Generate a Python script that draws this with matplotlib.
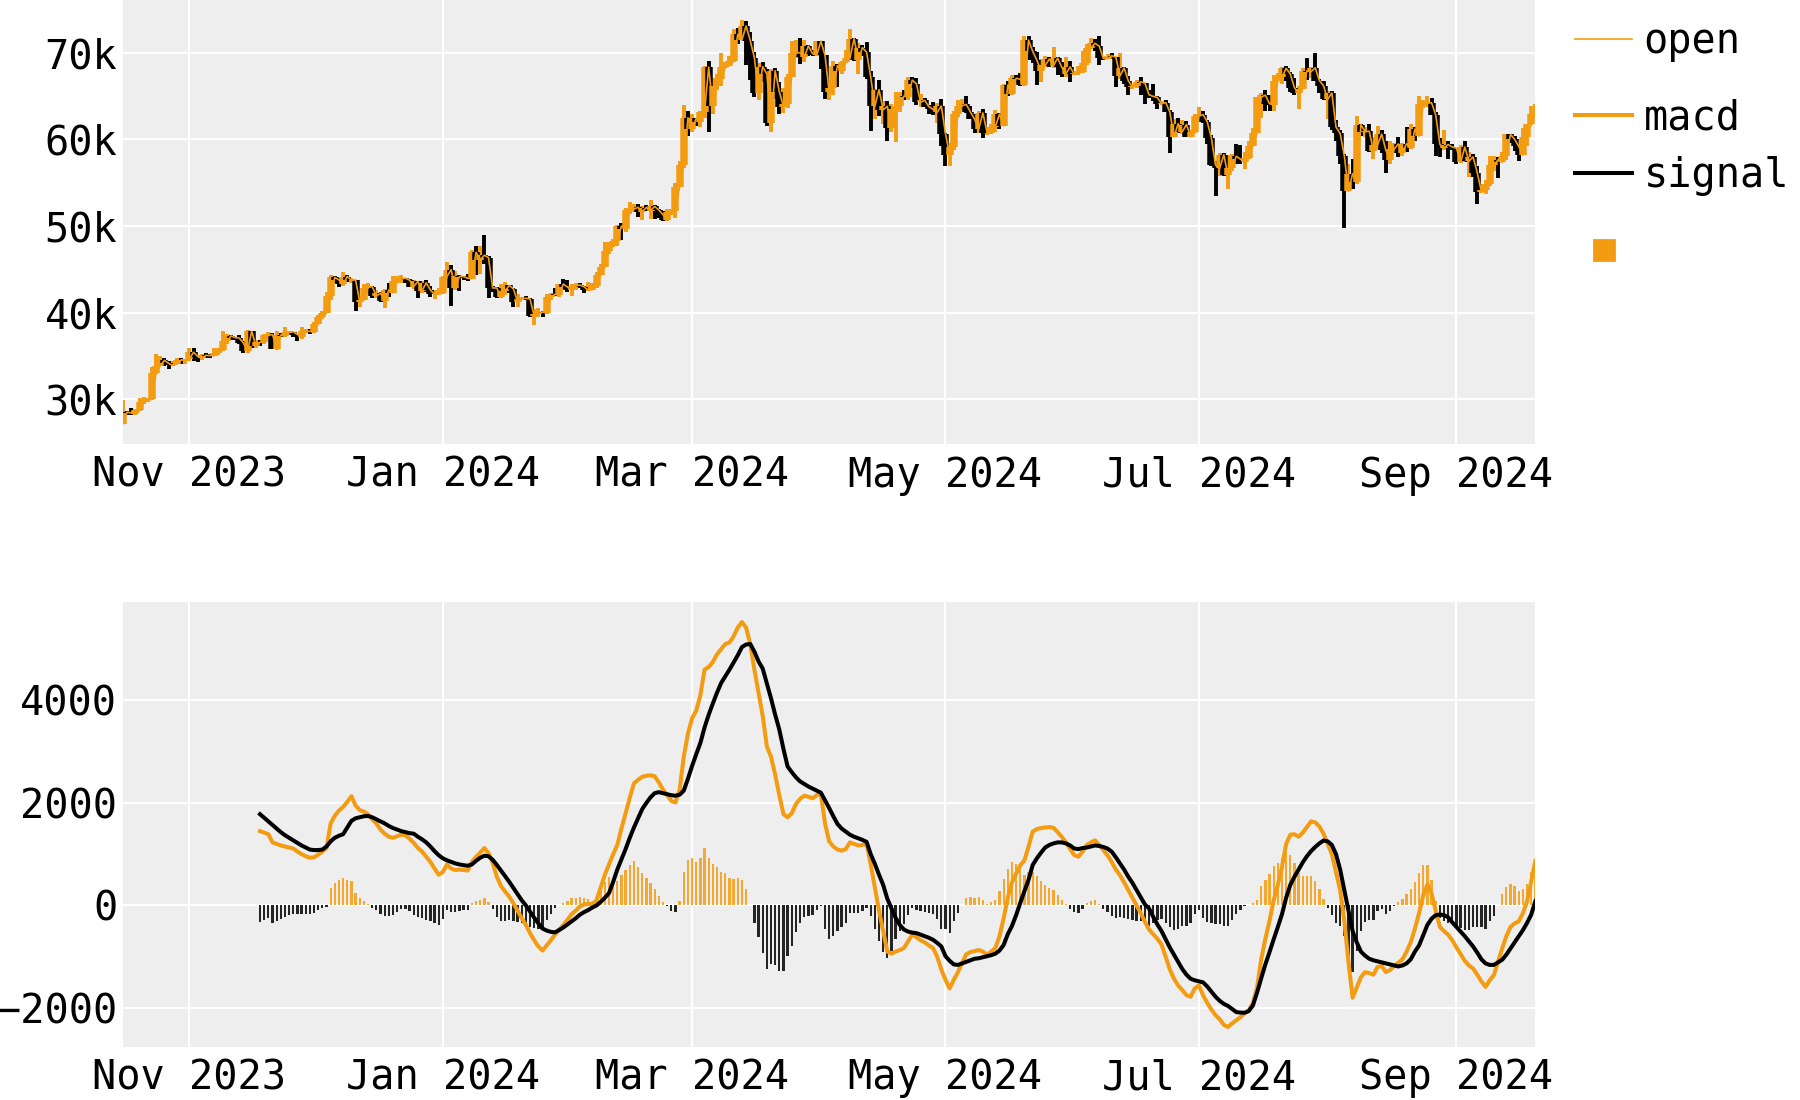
import numpy as np
import pandas as pd
import matplotlib
matplotlib.use("Agg")
import matplotlib.pyplot as plt
import matplotlib.dates as mdates
from matplotlib.lines import Line2D
from matplotlib.ticker import FuncFormatter, MultipleLocator

# ---------------- data (prices in thousands of USD) ----------------
start_date = "2023-10-16"

open_ = [
    27.15, 28.52, 28.42, 28.33, 28.72, 29.68, 29.92, 30.00, 33.09, 33.90, 34.50, 34.16, 33.91, 34.09, 34.54, 34.50,
    34.67, 35.44, 34.94, 34.73, 35.08, 35.05, 35.04, 35.40, 35.65, 36.69, 37.31, 37.13, 37.07, 36.49, 35.55, 37.88,
    36.15, 36.60, 36.58, 37.39, 37.48, 35.81, 37.41, 37.29, 37.72, 37.80, 37.48, 37.25, 37.83, 37.86,
    37.72, 38.69, 39.48, 39.98, 41.98, 44.08, 43.77, 43.29, 44.17, 43.73, 43.79, 41.24, 41.45, 42.89, 43.02, 41.93,
    42.24, 41.36, 42.62, 42.27, 43.65, 43.87, 43.99, 43.74, 43.02, 43.61, 42.52, 43.44, 42.63, 42.10, 42.16,
    42.27, 44.17, 44.96, 42.85, 44.18, 44.16, 43.97, 43.93, 46.97, 46.11, 46.63, 46.35, 42.85, 42.84, 41.80, 42.51,
    43.15, 42.74, 41.26, 41.62, 41.66, 41.58, 39.57, 39.90, 40.08, 39.93, 41.82, 42.12, 42.04, 43.30, 42.95,
    42.58, 43.08, 43.19, 42.99, 42.58, 42.66, 43.08, 44.32, 45.30, 47.15, 47.77, 48.29, 50.00, 49.70, 51.83, 51.94,
    52.16, 51.66, 52.12, 51.78, 52.26, 51.84, 51.30, 50.73, 51.57, 51.73, 54.52, 57.09, 62.50,
    61.20, 62.44, 62.03, 63.17, 68.33, 63.80, 66.11, 66.93, 68.30, 68.50, 69.02, 72.12, 71.48, 73.08, 71.40, 69.40,
    65.32, 68.39, 67.55, 61.91, 67.91, 65.49, 63.78, 64.06, 67.23, 69.96, 70.00, 69.45, 70.78, 69.89, 69.70,
    71.33, 69.70, 65.45, 65.98, 68.51, 67.84, 68.90, 69.36, 71.63, 69.14, 70.59, 70.06, 67.20, 63.82, 65.74, 63.42,
    63.81, 61.28, 63.51, 63.84, 64.99, 64.93, 66.84, 66.41, 64.28, 64.50, 63.77, 63.46, 63.12, 63.84,
    60.64, 58.25, 59.12, 62.89, 63.89, 64.03, 63.16, 62.33, 61.19, 63.05, 60.79, 60.79, 61.45, 62.90, 61.55, 66.27,
    65.23, 67.05, 66.94, 66.28, 71.45, 70.14, 69.12, 67.93, 68.53, 69.27, 68.51, 69.39, 68.30, 67.58, 68.36,
    67.49, 67.71, 67.75, 68.80, 70.57, 71.08, 70.76, 69.34, 69.30, 69.65, 69.49, 67.32, 68.24, 66.76, 66.01, 66.19,
    66.64, 66.49, 65.14, 64.96, 64.83, 64.10, 64.25, 63.18, 60.28, 61.80, 60.87, 61.71, 60.32, 60.89,
    62.68, 62.85, 62.03, 60.17, 57.03, 56.66, 58.23, 55.86, 56.71, 58.05, 57.72, 57.34, 57.90, 59.23, 60.79, 64.87,
    65.10, 64.12, 63.97, 66.71, 67.16, 68.19, 67.55, 65.96, 65.37, 65.80, 67.91, 67.81, 68.26, 66.78, 66.19,
    64.62, 65.36, 61.42, 60.68, 58.12, 53.99, 56.03, 55.03, 61.71, 60.88, 60.94, 58.71, 59.35, 60.61, 58.74, 57.56,
    58.87, 59.48, 58.48, 59.49, 59.01, 61.18, 60.38, 64.09, 64.18, 64.22, 62.83, 59.42, 59.03, 59.39, 59.12,
    58.97, 57.33, 59.11, 57.48, 57.97, 56.16, 53.95, 54.14, 54.84, 57.02, 57.65, 57.34, 58.13, 60.57, 60.01, 59.18,
    58.21, 60.31, 61.76, 62.95,
]

high = [
    29.98, 28.61, 28.98, 28.89, 30.10, 30.30, 30.20, 33.70, 35.20, 35.00, 34.80, 34.40, 34.40, 34.74, 34.72, 34.70,
    35.88, 35.98, 34.94, 35.25, 35.35, 35.27, 35.89, 35.88, 37.93, 37.53, 37.40, 37.25, 37.40, 36.75, 37.98, 37.93,
    36.83, 36.84, 37.50, 37.78, 37.66, 37.84, 37.65, 38.39, 37.89, 37.81, 37.58, 38.37, 38.15, 38.08,
    38.95, 39.68, 40.18, 42.39, 44.35, 44.27, 44.03, 44.70, 44.37, 43.99, 43.80, 41.93, 43.36, 43.43, 43.09, 42.59,
    42.34, 42.72, 43.45, 44.24, 44.23, 44.37, 44.05, 43.87, 43.80, 43.65, 43.68, 43.80, 43.11, 42.57, 42.85,
    44.18, 45.90, 45.50, 44.77, 44.34, 44.19, 44.47, 47.22, 47.69, 47.65, 48.97, 46.50, 43.04, 43.00, 43.28, 43.53,
    43.18, 42.89, 42.11, 41.80, 41.87, 41.72, 40.48, 40.49, 40.25, 42.20, 42.23, 42.81, 43.32, 43.84, 43.72,
    43.26, 43.48, 43.38, 43.12, 43.49, 43.40, 44.69, 45.58, 48.17, 48.20, 48.54, 50.13, 50.33, 52.04, 52.82, 52.56,
    52.53, 52.36, 52.48, 52.95, 52.37, 52.00, 51.68, 51.95, 51.95, 54.91, 57.53, 63.91, 63.23,
    62.90, 62.44, 63.23, 68.50, 69.00, 67.06, 67.49, 69.91, 68.96, 69.60, 72.74, 72.89, 73.75, 73.64, 72.34, 70.04,
    68.84, 68.92, 68.11, 68.07, 68.18, 66.62, 65.91, 67.56, 71.36, 71.48, 71.68, 71.52, 70.91, 70.30, 71.37,
    71.34, 69.72, 66.87, 68.99, 68.72, 69.02, 70.28, 72.72, 71.69, 71.13, 70.93, 71.22, 67.93, 65.82, 66.87, 64.37,
    64.46, 64.08, 65.45, 65.46, 65.66, 67.16, 67.21, 67.05, 65.28, 64.77, 63.92, 64.32, 64.18, 64.67,
    60.78, 59.60, 63.32, 64.49, 64.62, 65.00, 63.90, 62.98, 63.23, 63.45, 61.46, 61.82, 63.42, 63.03, 66.44, 66.73,
    67.40, 67.40, 67.69, 71.95, 71.92, 70.62, 70.08, 69.22, 69.58, 69.50, 70.61, 69.50, 68.88, 69.50, 69.00,
    67.84, 68.41, 70.16, 71.05, 71.73, 71.63, 71.94, 69.53, 69.82, 69.99, 69.52, 69.98, 68.38, 67.26, 66.37, 66.90,
    67.23, 66.56, 65.70, 66.42, 65.00, 64.47, 64.50, 63.35, 62.35, 62.43, 62.23, 62.12, 61.10, 62.87,
    63.78, 63.25, 62.18, 60.47, 57.50, 58.47, 58.37, 58.19, 58.29, 59.43, 59.36, 58.54, 59.80, 61.34, 64.87, 65.33,
    65.67, 65.08, 67.39, 67.61, 68.37, 68.47, 67.77, 67.04, 66.12, 68.22, 69.39, 68.32, 70.00, 66.97, 66.78,
    65.59, 65.55, 62.18, 61.10, 58.29, 57.11, 57.72, 62.67, 61.75, 61.47, 61.80, 60.22, 61.55, 61.04, 59.82, 59.80,
    59.62, 60.25, 59.59, 61.40, 61.81, 61.38, 64.95, 64.49, 64.98, 64.79, 63.21, 60.20, 61.12, 59.83, 59.43,
    59.06, 59.40, 59.81, 58.51, 58.31, 56.98, 54.85, 55.29, 58.05, 58.04, 57.99, 58.55, 60.65, 60.64, 60.38, 59.21,
    61.29, 61.80, 63.84, 64.11,
]

low = [
    27.13, 28.18, 28.15, 28.17, 28.70, 29.47, 29.73, 29.90, 32.90, 33.80, 33.90, 33.45, 33.88, 34.04, 34.07, 34.08,
    34.37, 34.42, 34.33, 34.58, 34.79, 34.78, 34.95, 35.11, 35.54, 36.34, 36.81, 36.82, 36.36, 35.38, 35.38, 35.88,
    35.93, 36.21, 36.37, 37.11, 35.77, 35.72, 37.18, 37.25, 37.57, 37.17, 36.77, 36.99, 37.63, 37.52,
    37.60, 38.68, 39.28, 39.96, 41.42, 43.38, 42.91, 43.10, 43.59, 43.39, 40.24, 40.68, 41.42, 42.11, 41.69, 41.72,
    41.27, 40.56, 41.84, 42.26, 43.40, 43.45, 43.37, 42.99, 42.76, 41.66, 42.27, 42.34, 41.82, 41.61, 42.08,
    42.15, 44.15, 40.81, 42.63, 42.51, 43.75, 43.67, 43.88, 44.33, 44.42, 45.67, 41.75, 42.44, 41.72, 41.70, 42.09,
    42.23, 40.68, 40.62, 41.45, 41.45, 39.47, 38.56, 39.52, 39.55, 39.83, 41.45, 41.88, 41.84, 42.72, 42.33,
    41.88, 42.57, 42.85, 42.25, 42.55, 42.58, 42.81, 44.30, 45.24, 46.80, 47.63, 47.74, 48.37, 49.27, 51.33, 51.62,
    51.09, 50.67, 51.70, 50.82, 50.83, 50.97, 50.62, 50.60, 51.29, 50.90, 54.45, 56.75, 60.37,
    60.80, 61.59, 61.48, 62.41, 60.80, 62.96, 65.70, 66.17, 68.21, 68.43, 68.90, 71.01, 71.47, 68.60, 66.88, 64.83,
    64.58, 66.63, 61.56, 60.86, 64.60, 62.97, 63.09, 63.57, 67.21, 69.39, 68.74, 68.87, 69.66, 69.61, 69.62,
    68.11, 64.63, 64.55, 65.10, 66.03, 67.58, 68.84, 69.13, 68.99, 67.52, 69.63, 66.92, 60.92, 62.30, 62.73, 61.76,
    59.77, 60.83, 59.68, 63.13, 64.53, 64.58, 65.88, 63.91, 63.76, 63.69, 62.92, 62.82, 61.83, 59.19,
    56.90, 56.94, 58.77, 62.62, 63.33, 63.07, 62.33, 60.79, 60.76, 60.18, 60.49, 60.66, 60.82, 61.20, 61.55, 64.99,
    65.12, 66.62, 66.10, 66.13, 69.20, 68.86, 66.31, 66.64, 68.34, 68.39, 68.26, 67.40, 67.18, 67.16, 66.67,
    67.40, 67.45, 67.68, 68.62, 70.38, 70.22, 68.61, 69.20, 69.27, 69.27, 66.08, 66.92, 66.35, 65.11, 65.80, 65.96,
    65.16, 64.12, 64.75, 64.38, 63.49, 63.98, 63.15, 58.40, 60.25, 60.73, 60.64, 60.30, 60.30, 60.68,
    62.53, 61.85, 59.46, 56.90, 53.49, 55.81, 55.82, 54.32, 56.30, 57.15, 57.15, 56.62, 57.71, 59.20, 60.70, 62.47,
    63.26, 63.31, 63.32, 66.70, 66.38, 66.70, 65.45, 65.11, 63.50, 65.77, 66.85, 67.08, 66.71, 65.31, 64.55,
    62.30, 61.12, 59.85, 57.20, 49.80, 53.99, 54.26, 54.82, 60.35, 60.30, 58.49, 57.69, 58.78, 58.48, 56.14, 57.11,
    58.87, 57.99, 58.06, 58.57, 58.90, 59.79, 60.38, 63.62, 63.74, 62.83, 58.11, 57.91, 58.73, 57.76, 58.74,
    57.12, 57.28, 57.42, 55.61, 55.71, 52.53, 53.76, 53.65, 54.59, 56.40, 55.58, 57.33, 57.66, 59.54, 58.70, 57.49,
    58.15, 59.21, 61.65, 62.58,
]

close = [
    28.52, 28.42, 28.33, 28.72, 29.68, 29.92, 30.00, 33.09, 33.90, 34.50, 34.16, 33.91, 34.09, 34.54, 34.50, 34.67,
    35.44, 34.94, 34.73, 35.08, 35.05, 35.04, 35.40, 35.65, 36.69, 37.31, 37.13, 37.07, 36.49, 35.55, 37.88, 36.15,
    36.60, 36.58, 37.39, 37.48, 35.81, 37.41, 37.29, 37.72, 37.80, 37.48, 37.25, 37.83, 37.86, 37.72,
    38.69, 39.48, 39.98, 41.98, 44.08, 43.77, 43.29, 44.17, 43.73, 43.79, 41.24, 41.45, 42.89, 43.02, 41.93, 42.24,
    41.36, 42.62, 42.27, 43.65, 43.87, 43.99, 43.74, 43.02, 43.61, 42.52, 43.44, 42.63, 42.10, 42.16, 42.27,
    44.17, 44.96, 42.85, 44.18, 44.16, 43.97, 43.93, 46.97, 46.11, 46.63, 46.35, 42.85, 42.84, 41.80, 42.51, 43.15,
    42.74, 41.26, 41.62, 41.66, 41.58, 39.57, 39.90, 40.08, 39.93, 41.82, 42.12, 42.04, 43.30, 42.95, 42.58,
    43.08, 43.19, 42.99, 42.58, 42.66, 43.08, 44.32, 45.30, 47.15, 47.77, 48.29, 50.00, 49.70, 51.83, 51.94, 52.16,
    51.66, 52.12, 51.78, 52.26, 51.84, 51.30, 50.73, 51.57, 51.73, 54.52, 57.09, 62.50, 61.20,
    62.44, 62.03, 63.17, 68.33, 63.80, 66.11, 66.93, 68.30, 68.50, 69.02, 72.12, 71.48, 73.08, 71.40, 69.40, 65.32,
    68.39, 67.55, 61.91, 67.91, 65.49, 63.78, 64.06, 67.23, 69.96, 70.00, 69.45, 70.78, 69.89, 69.70, 71.33,
    69.70, 65.45, 65.98, 68.51, 67.84, 68.90, 69.36, 71.63, 69.14, 70.59, 70.06, 67.20, 63.82, 65.74, 63.42, 63.81,
    61.28, 63.51, 63.84, 64.99, 64.93, 66.84, 66.41, 64.28, 64.50, 63.77, 63.46, 63.12, 63.84, 60.64,
    58.25, 59.12, 62.89, 63.89, 64.03, 63.16, 62.33, 61.19, 63.05, 60.79, 60.79, 61.45, 62.90, 61.55, 66.27, 65.23,
    67.05, 66.94, 66.28, 71.45, 70.14, 69.12, 67.93, 68.53, 69.27, 68.51, 69.39, 68.30, 67.58, 68.36, 67.49,
    67.71, 67.75, 68.80, 70.57, 71.08, 70.76, 69.34, 69.30, 69.65, 69.49, 67.32, 68.24, 66.76, 66.01, 66.19, 66.64,
    66.49, 65.14, 64.96, 64.83, 64.10, 64.25, 63.18, 60.28, 61.80, 60.87, 61.71, 60.32, 60.89, 62.68,
    62.85, 62.03, 60.17, 57.03, 56.66, 58.23, 55.86, 56.71, 58.05, 57.72, 57.34, 57.90, 59.23, 60.79, 64.87, 65.10,
    64.12, 63.97, 66.71, 67.16, 68.19, 67.55, 65.96, 65.37, 65.80, 67.91, 67.81, 68.26, 66.78, 66.19, 64.62,
    65.36, 61.42, 60.68, 58.12, 53.99, 56.03, 55.03, 61.71, 60.88, 60.94, 58.71, 59.35, 60.61, 58.74, 57.56, 58.87,
    59.48, 58.48, 59.49, 59.01, 61.18, 60.38, 64.09, 64.18, 64.22, 62.83, 59.42, 59.03, 59.39, 59.12, 58.97,
    57.33, 59.11, 57.48, 57.97, 56.16, 53.95, 54.14, 54.84, 57.02, 57.65, 57.34, 58.13, 60.57, 60.01, 59.18, 58.21,
    60.31, 61.76, 62.95, 63.20,
]

macd_start = "2023-11-18"

macd = [
    1450, 1420, 1390, 1230, 1200, 1170, 1150, 1130, 1110, 1050,
    1000, 960, 930, 940, 990, 1050, 1120, 1600, 1750, 1850,
    1920, 2020, 2130, 1950, 1860, 1830, 1780, 1680, 1600, 1480,
    1400, 1340, 1320, 1350, 1380, 1370, 1300, 1220, 1120, 1050,
    950, 850, 720, 600, 650, 800, 720, 690, 700, 690,
    680, 850, 950, 1030, 1120, 1020, 830, 560, 380, 270,
    170, 40, -100, -250, -380, -540, -680, -800, -880, -780,
    -680, -570, -470, -380, -280, -170, -100, -20, 20, 30,
    30, 100, 350, 600, 800, 1000, 1180, 1500, 1800, 2100,
    2380, 2450, 2510, 2530, 2540, 2520, 2400, 2260, 2150, 2040,
    2010, 2250, 2900, 3350, 3650, 3800, 4100, 4600, 4650, 4750,
    4900, 5000, 5100, 5130, 5250, 5420, 5530, 5420, 5100, 4600,
    4150, 3700, 3100, 2900, 2550, 2150, 1780, 1720, 1800, 1980,
    2080, 2140, 2120, 2090, 2150, 2180, 1600, 1250, 1150, 1090,
    1070, 1100, 1230, 1200, 1170, 1180, 1200, 800, 350, -100,
    -500, -900, -940, -900, -870, -830, -700, -570, -620, -680,
    -720, -780, -830, -1000, -1250, -1450, -1620, -1450, -1300, -1120,
    -950, -910, -890, -870, -900, -960, -900, -830, -600, -250,
    150, 450, 620, 780, 880, 1150, 1440, 1490, 1510, 1520,
    1530, 1515, 1430, 1340, 1230, 1100, 980, 950, 1050, 1180,
    1230, 1270, 1180, 1080, 980, 850, 700, 590, 450, 300,
    150, 0, -150, -320, -470, -560, -650, -760, -1000, -1250,
    -1430, -1560, -1650, -1750, -1780, -1620, -1560, -1750, -1900, -2030,
    -2140, -2220, -2330, -2370, -2300, -2240, -2180, -2100, -2050, -1900,
    -1600, -1050, -650, -300, 100, 400, 750, 1200, 1380, 1390,
    1340, 1420, 1530, 1640, 1620, 1540, 1400, 1200, 1000, 650,
    300, -300, -1100, -1800, -1600, -1400, -1300, -1320, -1350, -1200,
    -1180, -1300, -1260, -1180, -1120, -1050, -900, -720, -450, -150,
    200, 410, 230, -100, -420, -500, -570, -680, -820, -950,
    -1080, -1170, -1230, -1350, -1480, -1590, -1460, -1360, -1100, -840,
    -600, -420, -350, -310, -150, 80, 470, 870,
]

signal = [
    1780, 1710, 1640, 1570, 1500, 1430, 1370, 1320, 1270, 1220,
    1170, 1130, 1090, 1080, 1080, 1090, 1150, 1250, 1320, 1360,
    1390, 1520, 1650, 1700, 1720, 1740, 1745, 1720, 1680, 1640,
    1600, 1550, 1510, 1480, 1450, 1430, 1410, 1400, 1340, 1290,
    1230, 1150, 1060, 980, 920, 880, 850, 820, 800, 785,
    775, 800, 870, 930, 970, 960, 890, 790, 680, 570,
    460, 340, 220, 100, 0, -120, -240, -350, -450, -490,
    -515, -525, -480, -430, -370, -310, -250, -180, -130, -90,
    -40, 0, 70, 150, 240, 460, 700, 900, 1100, 1320,
    1520, 1700, 1880, 2000, 2110, 2190, 2210, 2190, 2170, 2150,
    2140, 2160, 2240, 2470, 2720, 2950, 3170, 3470, 3720, 3940,
    4150, 4340, 4470, 4600, 4740, 4880, 5040, 5090, 5100, 4950,
    4760, 4620, 4330, 4040, 3720, 3430, 3050, 2710, 2600, 2500,
    2420, 2370, 2320, 2280, 2240, 2200, 2050, 1900, 1740, 1590,
    1500, 1440, 1380, 1340, 1310, 1280, 1240, 1000, 810, 600,
    400, 130, -60, -240, -380, -470, -510, -530, -540, -570,
    -600, -630, -670, -730, -800, -990, -1080, -1150, -1160, -1130,
    -1100, -1070, -1040, -1030, -1010, -990, -970, -940, -880, -770,
    -560, -400, -190, 50, 280, 500, 790, 920, 1030, 1130,
    1180, 1210, 1230, 1230, 1210, 1170, 1110, 1100, 1120, 1130,
    1150, 1170, 1160, 1140, 1110, 1050, 940, 820, 700, 560,
    440, 300, 160, 20, -60, -220, -370, -500, -660, -820,
    -960, -1100, -1240, -1350, -1430, -1460, -1480, -1500, -1580, -1680,
    -1780, -1860, -1920, -1960, -2020, -2080, -2090, -2093, -2060, -1950,
    -1700, -1420, -1150, -910, -660, -420, -170, 150, 400, 560,
    700, 840, 960, 1060, 1140, 1210, 1266, 1250, 1180, 1000,
    700, 300, -100, -500, -720, -900, -980, -1040, -1070, -1090,
    -1110, -1128, -1150, -1170, -1190, -1170, -1130, -1050, -900, -780,
    -580, -380, -260, -190, -177, -190, -230, -330, -420, -510,
    -600, -700, -800, -920, -1050, -1130, -1160, -1160, -1110, -1060,
    -960, -840, -720, -600, -480, -340, -177, 85,
]

hist = [
    -330, -290, -250, -340, -300, -260, -220, -190, -160, -170,
    -170, -170, -160, -140, -90, -40, -30, 350, 430, 490,
    530, 500, 480, 250, 140, 90, 35, -40, -80, -160,
    -200, -210, -190, -130, -70, -60, -110, -180, -220, -240,
    -280, -300, -340, -380, -270, -80, -130, -130, -100, -95,
    -95, 50, 80, 100, 150, 60, -60, -230, -300, -300,
    -290, -300, -320, -350, -380, -420, -440, -450, -430, -290,
    -165, -45, 10, 50, 90, 140, 150, 160, 150, 120,
    70, 100, 280, 450, 560, 540, 480, 600, 700, 780,
    860, 750, 630, 530, 430, 330, 190, 70, -20, -110,
    -130, 90, 660, 880, 930, 850, 930, 1130, 930, 810,
    750, 660, 630, 530, 510, 540, 490, 330, 0, -350,
    -610, -920, -1230, -1140, -1170, -1280, -1270, -990, -800, -520,
    -340, -230, -200, -190, -90, -20, -450, -650, -590, -500,
    -430, -340, -150, -140, -140, -100, -40, -200, -460, -700,
    -900, -1030, -880, -660, -490, -360, -190, -40, -80, -110,
    -120, -150, -160, -270, -450, -460, -540, -300, -140, 10,
    150, 160, 150, 160, 110, 30, 70, 110, 280, 520,
    710, 850, 810, 730, 600, 650, 650, 570, 480, 390,
    350, 305, 200, 110, 20, -70, -130, -150, -70, 50,
    80, 100, 20, -60, -130, -200, -240, -230, -250, -260,
    -290, -300, -310, -340, -410, -340, -280, -260, -340, -430,
    -470, -460, -410, -400, -350, -160, -80, -250, -320, -350,
    -360, -360, -410, -410, -280, -160, -90, -7, 10, 50,
    100, 370, 500, 610, 760, 820, 920, 1050, 980, 830,
    640, 580, 570, 580, 480, 330, 134, -50, -180, -350,
    -400, -600, -1000, -1300, -880, -500, -320, -280, -280, -110,
    -70, -172, -110, -10, 70, 120, 230, 330, 450, 630,
    780, 790, 490, 90, -243, -310, -340, -350, -400, -440,
    -480, -470, -430, -430, -430, -460, -300, -200, 10, 220,
    360, 420, 370, 290, 330, 420, 647, 785,
]

# ---------------- style ----------------
ORANGE = "#F39C12"
BLACK = "#000000"
BG = "#EEEEEE"
FS = 14.5

plt.rcParams["font.family"] = ["DejaVu Sans Mono", "DejaVu Sans"]
plt.rcParams["font.size"] = FS

fig = plt.figure(figsize=(9, 5.5), dpi=200)
ax1 = fig.add_axes([0.0683, 0.596, 0.7847, 0.404])
ax2 = fig.add_axes([0.0683, 0.048, 0.7847, 0.405])

dates = pd.date_range(start_date, periods=len(close), freq="D")
x = mdates.date2num(dates.to_pydatetime())
mdts = pd.date_range(macd_start, periods=len(macd), freq="D")
xm = mdates.date2num(mdts.to_pydatetime())

o = np.array(open_)
h = np.array(high)
l = np.array(low)
c = np.array(close)
up = c >= o
ccol = [ORANGE if u else BLACK for u in up]

# candlesticks: wicks, then bodies, then thin open line
ax1.vlines(x, l, h, colors=ccol, linewidth=1.4, zorder=2)
ax1.vlines(x, np.minimum(o, c), np.maximum(o, c), colors=ccol, linewidth=2.7, zorder=3)
ax1.plot(x, o, color=ORANGE, linewidth=0.6, zorder=4)

ax1.set_xlim(x[0], x[-1])
ax1.yaxis.set_major_locator(MultipleLocator(10))
ax1.yaxis.set_major_formatter(FuncFormatter(lambda v, p: f"{v:.0f}k"))

# MACD panel
hv = np.array(hist)
hcol = [ORANGE if v >= 0 else BLACK for v in hv]
ax2.bar(xm, hv, width=0.55, color=hcol, alpha=0.85, zorder=2)
ax2.plot(xm, macd, color=ORANGE, linewidth=1.45, zorder=3)
ax2.plot(xm, signal, color=BLACK, linewidth=1.45, zorder=4)
ax2.set_xlim(x[0], x[-1])
ax2.yaxis.set_major_locator(MultipleLocator(2000))

for ax in (ax1, ax2):
    ax.set_facecolor(BG)
    for s in ax.spines.values():
        s.set_visible(False)
    ax.grid(True, color="white", linewidth=0.8)
    ax.set_axisbelow(True)
    ax.tick_params(axis="both", length=0, labelsize=FS)
    ax.tick_params(axis="y", pad=2)
    ax.tick_params(axis="x", pad=4)
    ax.xaxis.set_major_locator(mdates.MonthLocator(bymonth=[1, 3, 5, 7, 9, 11]))
    ax.xaxis.set_major_formatter(mdates.DateFormatter("%b %Y"))

# legend (placed row by row to match the reference spacing)
entries = [
    (Line2D([], [], color=ORANGE, linewidth=0.6), "open", 0.9614),
    (Line2D([], [], color=ORANGE, linewidth=1.45), "macd", 0.8927),
    (Line2D([], [], color=BLACK, linewidth=1.45), "signal", 0.8400),
    (Line2D([], [], color=ORANGE, marker="s", linestyle="none", markersize=7.5), "", 0.7700),
]
for hnd, lab, yc in entries:
    fig.legend(handles=[hnd], labels=[lab], loc="center left",
               bbox_to_anchor=(0.875, yc), frameon=False, borderpad=0,
               borderaxespad=0, handlelength=1.42, handletextpad=0.28,
               fontsize=FS)

fig.savefig("out.png", dpi=200, facecolor="white")
